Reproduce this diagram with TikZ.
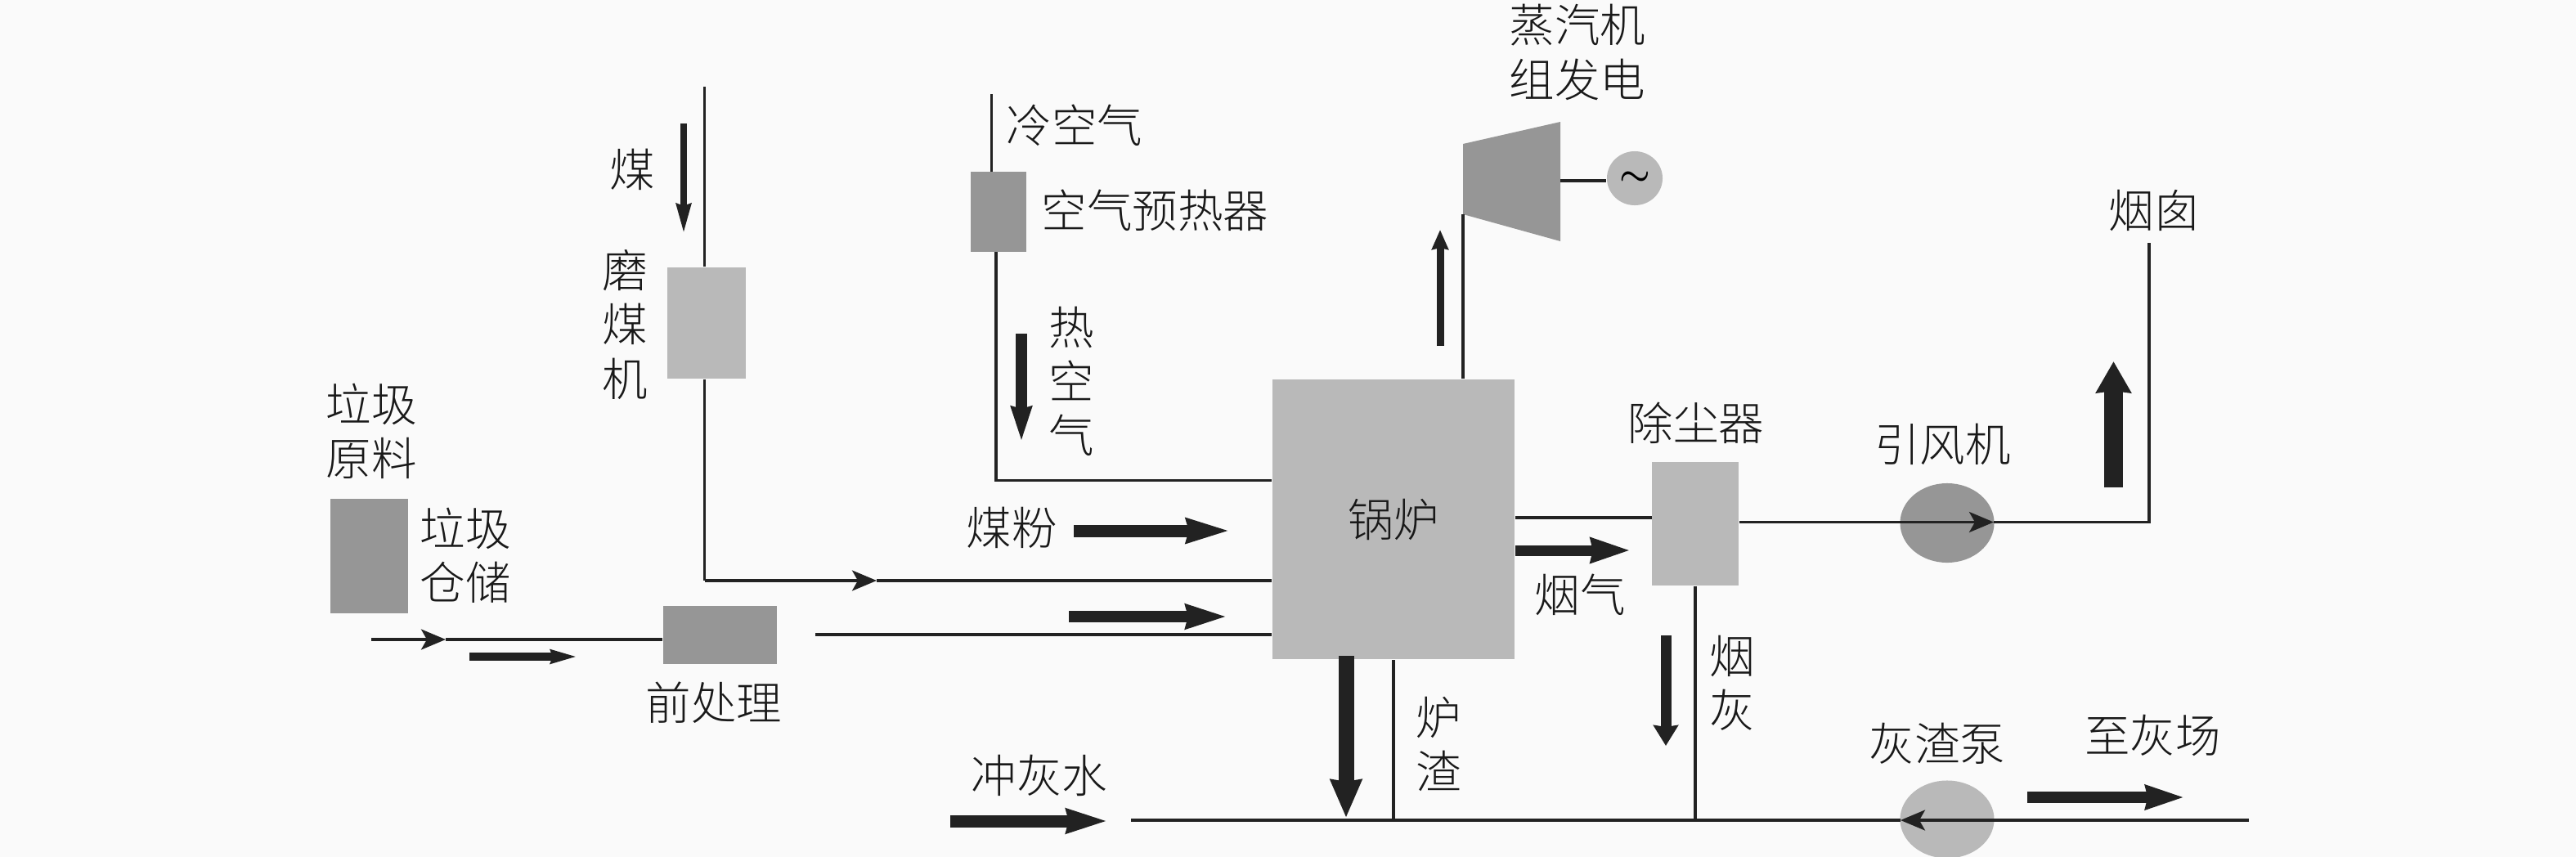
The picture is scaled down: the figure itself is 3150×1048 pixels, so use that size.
\documentclass[tikz,border=0pt]{standalone}
\usepackage{fontspec}
\setmainfont{Noto Sans CJK SC Light}
\usepackage{tikz}
\usetikzlibrary{shapes.geometric,arrows.meta}
\definecolor{bgpage}{HTML}{FAFAFA}
\definecolor{darkunit}{HTML}{969696}
\definecolor{lightunit}{HTML}{B9B9B9}
\definecolor{pipeink}{HTML}{222222}
\tikzset{
  unitbox/.style={rectangle, inner sep=0pt, fill=#1},
  unitround/.style={ellipse, inner sep=0pt, fill=#1},
  pipe/.style={draw=pipeink, line width=0.9pt},
  pipetip/.style={pipe, -{Stealth[length=0.3cm,width=0.25cm,inset=0.07cm]}},
  fatflow/.style n args={3}{draw=pipeink, line width=#1cm,
    -{Stealth[length=#2cm,width=#3cm,inset=0.02cm]}},
  lbl/.style={align=center, inner sep=0pt, text=black!90,
    font=\fontsize{15.8}{18.8}\selectfont}
}
\begin{document}
\begin{tikzpicture}[x=0.01cm,y=-0.01cm]
    \useasboundingbox[fill=bgpage] (0,-2) rectangle (3150,1046);

    % Units
    \node[unitbox=darkunit, minimum width=0.945cm, minimum height=1.395cm] (store) at (451.5,678) {};
    \node[unitbox=darkunit, minimum width=1.39cm, minimum height=0.715cm] (pretreat) at (880.5,774.5) {};
    \node[unitbox=lightunit, minimum width=0.965cm, minimum height=1.36cm] (mill) at (864,393) {};
    \node[unitbox=darkunit, minimum width=0.685cm, minimum height=0.975cm] (preheater) at (1221,257) {};
    \node[unitbox=lightunit, minimum width=2.965cm, minimum height=3.425cm, lbl] (boiler) at (1704,633) {锅炉};
    \node[unitbox=lightunit, minimum width=1.055cm, minimum height=1.51cm] (dust) at (2073,638.5) {};
    \node[unitround=darkunit, minimum width=1.15cm, minimum height=0.97cm] (fan) at (2381,637.5) {};
    \node[unitround=lightunit, minimum width=1.15cm, minimum height=0.95cm] (pump) at (2381,1000) {};
    \node[unitround=lightunit, minimum width=0.68cm, minimum height=0.66cm, font=\fontsize{13}{18}\selectfont\boldmath] (gen) at (1999,216) {$\sim$};

    % Turbine
    \coordinate (turbinein) at (1789,260);
    \coordinate (turbineout) at (1908,219);
    \fill[darkunit] (1789,174) -- (1908,147) -- (1908,293) -- (1789,260) -- cycle;

    % Pipes
    \coordinate (coaltop) at (861.5,104);
    \coordinate (coalbend) at (861.5,708);
    \coordinate (coaltip) at (1072,708);
    \draw[pipe] (coaltop) -- (coaltop |- mill.north);
    \draw[pipe] (coalbend |- mill.south) -- (coalbend);
    \draw[pipetip] (coalbend) -- (coaltip);
    \draw[pipe] (coaltip) -- (coaltip -| boiler.west);

    \coordinate (coldtop) at (1212.5,113);
    \coordinate (hotbend) at (1218,585.5);
    \draw[pipe] (coldtop) -- (coldtop |- preheater.north);
    \draw[pipe] (hotbend |- preheater.south) -- (hotbend) -- (hotbend -| boiler.west);

    \coordinate (wastestart) at (454,780);
    \coordinate (wastetip) at (545,780);
    \draw[pipetip] (wastestart) -- (wastetip);
    \draw[pipe] (wastetip) -- (wastetip -| pretreat.west);

    \coordinate (feedstart) at (997,774);
    \draw[pipe] (feedstart) -- (feedstart -| boiler.west);

    \draw[pipe] (turbinein |- boiler.north) -- (turbinein);
    \draw[pipe] (turbineout) -- (turbineout -| gen.west);

    \coordinate (gasline) at (1950,631);
    \draw[pipe] (gasline -| boiler.east) -- (gasline -| dust.west);

    \coordinate (fantip) at (2438,636.5);
    \coordinate (stackbend) at (2628,636.5);
    \coordinate (stacktop) at (2628,295);
    \draw[pipetip] (fantip -| dust.east) -- (fantip);
    \draw[pipe] (fantip) -- (stackbend) -- (stacktop);

    \coordinate (ashstart) at (1383,1001);
    \coordinate (ashend) at (2750,1001);
    \coordinate (pumptip) at (2324,1001);
    \draw[pipetip] (ashend) -- (pumptip);
    \draw[pipe] (pumptip) -- (ashstart);
    \draw[pipe] (boiler.south) -- (boiler.south |- ashstart);
    \draw[pipe] (dust.south) -- (dust.south |- ashstart);

    % Flow arrows
    \coordinate (coalfrom) at (836,149); \coordinate (coalto) at (836,284);
    \draw[fatflow={0.08}{0.36}{0.17}] (coalfrom) -- (coalto);
    \coordinate (hotfrom) at (1249,406); \coordinate (hotto) at (1249,538);
    \draw[fatflow={0.14}{0.42}{0.24}] (hotfrom) -- (hotto);
    \coordinate (steamfrom) at (1761,421); \coordinate (steamto) at (1761,279);
    \draw[fatflow={0.09}{0.24}{0.2}] (steamfrom) -- (steamto);
    \coordinate (stackfrom) at (2584.5,594); \coordinate (stackto) at (2584.5,440);
    \draw[fatflow={0.23}{0.38}{0.42}] (stackfrom) -- (stackto);
    \coordinate (gasfrom) at (1853,671); \coordinate (gasto) at (1994,671);
    \draw[fatflow={0.13}{0.48}{0.29}] (gasfrom) -- (gasto);
    \coordinate (ashfrom) at (2037,775); \coordinate (ashto) at (2037,910);
    \draw[fatflow={0.13}{0.25}{0.3}] (ashfrom) -- (ashto);
    \coordinate (slagfrom) at (1646,800); \coordinate (slagto) at (1646,998);
    \draw[fatflow={0.19}{0.46}{0.37}] (slagfrom) -- (slagto);
    \coordinate (yardfrom) at (2479,973); \coordinate (yardto) at (2671.5,973);
    \draw[fatflow={0.14}{0.47}{0.28}] (yardfrom) -- (yardto);
    \coordinate (washfrom) at (1162,1002); \coordinate (washto) at (1355,1002);
    \draw[fatflow={0.15}{0.5}{0.28}] (washfrom) -- (washto);
    \coordinate (powderfrom) at (1313,647); \coordinate (powderto) at (1505,647);
    \draw[fatflow={0.15}{0.53}{0.28}] (powderfrom) -- (powderto);
    \coordinate (feedfrom) at (1307,752); \coordinate (feedto) at (1501,752);
    \draw[fatflow={0.14}{0.5}{0.28}] (feedfrom) -- (feedto);
    \coordinate (wastefrom) at (574,801); \coordinate (wasteto) at (706,801);
    \draw[fatflow={0.1}{0.32}{0.16}] (wastefrom) -- (wasteto);

    % Labels
    \node[lbl] (rawlabel) at (454,525) {垃圾\\原料};
    \node[lbl] (storelabel) at (569,677) {垃圾\\仓储};
    \node[lbl] (pretreatlabel) at (873,857) {前处理};
    \node[lbl] (coallabel) at (773,205) {煤};
    \node[lbl] (milllabel) at (764,395) {磨\\煤\\机};
    \node[lbl] (coldlabel) at (1314,151) {冷空气};
    \node[lbl] (preheatlabel) at (1412.5,255.5) {空气预热器};
    \node[lbl] (hotlabel) at (1310,464) {热\\空\\气};
    \node[lbl] (powderlabel) at (1237,643.5) {煤粉};
    \node[lbl] (washlabel) at (1271,946) {冲灰水};
    \node[lbl] (turbinelabel) at (1929,62) {蒸汽机\\组发电};
    \node[lbl] (stacklabel) at (2634,255) {烟囱};
    \node[lbl] (dustlabel) at (2074,515.5) {除尘器};
    \node[lbl] (fanlabel) at (2375.5,541) {引风机};
    \node[lbl] (gaslabel) at (1932,725) {烟气};
    \node[lbl] (ashlabel) at (2118,833.5) {烟\\灰};
    \node[lbl] (slaglabel) at (1759.5,908) {炉\\渣};
    \node[lbl] (pumplabel) at (2369,907) {灰渣泵};
    \node[lbl] (yardlabel) at (2632.5,897) {至灰场};
\end{tikzpicture}
\end{document}
